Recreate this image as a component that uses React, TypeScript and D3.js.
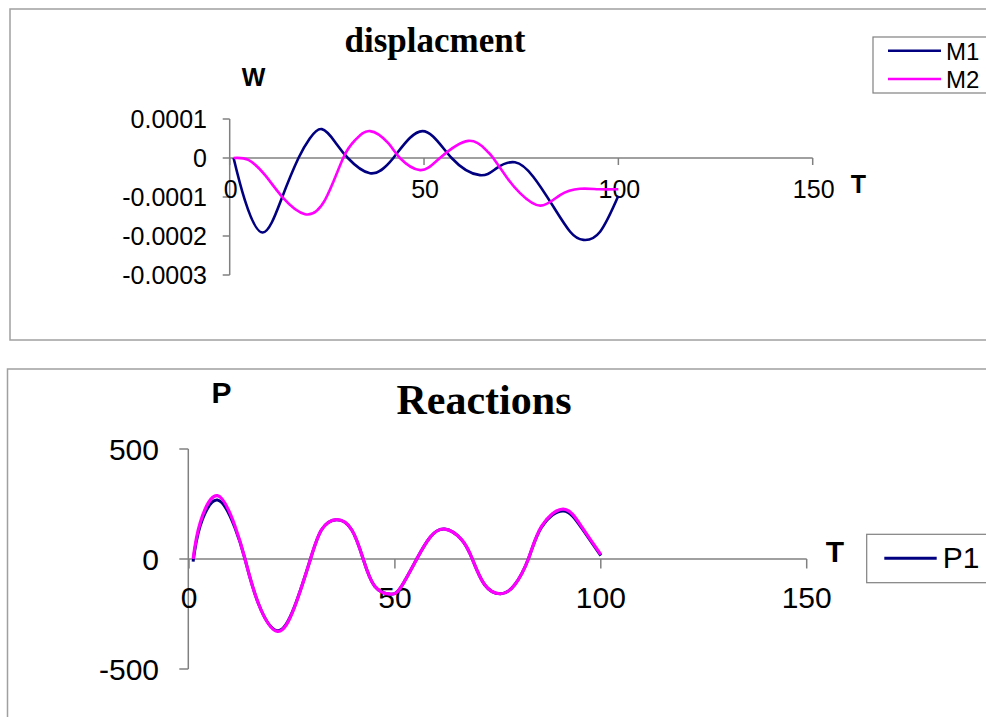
import React, { useRef, useEffect } from 'react';
import * as d3 from 'd3';

// displacement chart (values in units of 1e-4)
const m1T = [1, 3.9, 8.5, 13.4, 17.7, 20.6, 23.7, 27.2, 30.4, 36.1, 42.1, 49.6, 57.1, 64.4, 68.7, 73.4, 78.1, 83.3, 87.6, 91, 95.3, 100];
const m1W = [0, -1.08, -1.91, -1.03, 0, 0.5, 0.74, 0.4, 0, -0.39, 0, 0.69, 0, -0.44, -0.26, -0.11, -0.48, -1.25, -1.89, -2.1, -1.89, -0.97];
const m2T = [1, 4.8, 9.1, 13.8, 19.4, 24.5, 29.2, 32.4, 36.1, 40.8, 43.8, 49, 54.1, 61.4, 66.1, 67.8, 71.3, 74.7, 79.9, 85, 90.1, 95, 100];
const m2W = [0, -0.05, -0.44, -1.03, -1.44, -1.08, 0, 0.47, 0.69, 0.38, 0, -0.31, 0, 0.44, 0.19, 0, -0.5, -0.9, -1.22, -0.95, -0.79, -0.8, -0.8];

// reactions chart
const pT = [1, 2.7, 6.9, 11.2, 13.6, 16.8, 21.5, 25.7, 29.5, 32.2, 35.8, 39.5, 42.3, 45.1, 49, 51.6, 55.3, 58.6, 62.1, 66.2, 68.8, 71.8, 75.7, 79.1, 82.4, 85.6, 90.9, 95.3, 100];
const p1 = [-12, 150, 268, 140, 0, -200, -326, -213, 0, 133, 178, 133, 0, -124, -160, -124, 0, 100, 136, 88, 0, -117, -158, -117, 0, 145, 218, 142, 15];
const p2 = [0, 164, 288, 148, 0, -200, -329, -215, 0, 133, 179, 133, 0, -124, -160, -124, 0, 100, 136, 88, 0, -117, -158, -117, 0, 148, 227, 148, 20];

const xTicks = [0, 50, 100, 150];
const wTicks = [0.0001, 0, -0.0001, -0.0002, -0.0003];
const wTickLabels = ['0.0001', '0', '-0.0001', '-0.0002', '-0.0003'];
const pTicks = [500, 0, -500];

const NAVY = '#000080';
const MAGENTA = '#ff00ff';
const SANS = '"Liberation Sans", Arial, sans-serif';
const SERIF = '"Liberation Serif", "Times New Roman", serif';

const App = () => {
  const ref = useRef<SVGSVGElement>(null);

  useEffect(() => {
    const svg = d3.select(ref.current);
    svg.selectAll('*').remove();

    svg.append('rect').attr('width', 986).attr('height', 717).attr('fill', '#fff');

    // ---------- top panel ----------
    svg.append('rect')
      .attr('x', 10).attr('y', 9).attr('width', 990).attr('height', 331)
      .attr('fill', 'none').attr('stroke', '#a0a0a0').attr('stroke-width', 1.5);

    const x1 = d3.scaleLinear().domain([0, 150]).range([229.7, 812.7]);
    const y1 = d3.scaleLinear().domain([-0.0003, 0.0001]).range([275, 119]);

    const g1 = svg.append('g');
    // y axis
    g1.append('line')
      .attr('x1', x1(0)).attr('x2', x1(0)).attr('y1', y1(0.0001)).attr('y2', y1(-0.0003))
      .attr('stroke', '#808080').attr('stroke-width', 1.5);
    wTicks.forEach((v, i) => {
      g1.append('line')
        .attr('x1', x1(0) - 7).attr('x2', x1(0)).attr('y1', y1(v)).attr('y2', y1(v))
        .attr('stroke', '#808080').attr('stroke-width', 1.5);
      g1.append('text')
        .attr('x', 207).attr('y', y1(v)).attr('dy', '0.35em')
        .attr('text-anchor', 'end').attr('font-family', SANS).attr('font-size', 25)
        .text(wTickLabels[i]);
    });
    // x axis
    g1.append('line')
      .attr('x1', x1(0)).attr('x2', x1(150)).attr('y1', y1(0)).attr('y2', y1(0))
      .attr('stroke', '#808080').attr('stroke-width', 1.5);
    xTicks.forEach(v => {
      g1.append('line')
        .attr('x1', x1(v)).attr('x2', x1(v)).attr('y1', y1(0)).attr('y2', y1(0) + 7)
        .attr('stroke', '#808080').attr('stroke-width', 1.5);
      g1.append('text')
        .attr('x', x1(v) + 1).attr('y', 198)
        .attr('text-anchor', 'middle').attr('font-family', SANS).attr('font-size', 25)
        .text(v);
    });

    const line1 = d3.line<[number, number]>()
      .x(d => x1(d[0])).y(d => y1(d[1] * 1e-4))
      .curve(d3.curveNatural);
    g1.append('path')
      .attr('d', line1(m1T.map((t, i) => [t, m1W[i]])))
      .attr('fill', 'none').attr('stroke', NAVY).attr('stroke-width', 2.6);
    g1.append('path')
      .attr('d', line1(m2T.map((t, i) => [t, m2W[i]])))
      .attr('fill', 'none').attr('stroke', MAGENTA).attr('stroke-width', 2.6);

    g1.append('text')
      .attr('x', 435).attr('y', 52).attr('text-anchor', 'middle')
      .attr('font-family', SERIF).attr('font-weight', 'bold').attr('font-size', 35)
      .text('displacment');
    g1.append('text')
      .attr('x', 253.5).attr('y', 86).attr('text-anchor', 'middle')
      .attr('font-family', SANS).attr('font-weight', 'bold').attr('font-size', 25)
      .text('W');
    g1.append('text')
      .attr('x', 858.5).attr('y', 193).attr('text-anchor', 'middle')
      .attr('font-family', SANS).attr('font-weight', 'bold').attr('font-size', 25)
      .text('T');

    // legend
    g1.append('rect')
      .attr('x', 873).attr('y', 37).attr('width', 200).attr('height', 56)
      .attr('fill', '#fff').attr('stroke', '#808080').attr('stroke-width', 1.2);
    [['M1', NAVY, 50.7, 59.5], ['M2', MAGENTA, 79, 87.5]].forEach(([name, color, ly, ty]) => {
      g1.append('line')
        .attr('x1', 888).attr('x2', 941).attr('y1', ly as number).attr('y2', ly as number)
        .attr('stroke', color as string).attr('stroke-width', 2.6);
      g1.append('text')
        .attr('x', 946).attr('y', ty as number)
        .attr('font-family', SANS).attr('font-size', 24)
        .text(name as string);
    });

    // ---------- bottom panel ----------
    svg.append('rect')
      .attr('x', 7.5).attr('y', 369).attr('width', 990).attr('height', 400)
      .attr('fill', 'none').attr('stroke', '#a0a0a0').attr('stroke-width', 1.5);

    const x2 = d3.scaleLinear().domain([0, 150]).range([189, 806.7]);
    const y2 = d3.scaleLinear().domain([-500, 500]).range([669, 449]);

    const g2 = svg.append('g');
    g2.append('line')
      .attr('x1', 188.3).attr('x2', 188.3).attr('y1', y2(500)).attr('y2', y2(-500))
      .attr('stroke', '#808080').attr('stroke-width', 1.5);
    pTicks.forEach(v => {
      g2.append('line')
        .attr('x1', 179.3).attr('x2', 188.3).attr('y1', y2(v)).attr('y2', y2(v))
        .attr('stroke', '#808080').attr('stroke-width', 1.5);
      g2.append('text')
        .attr('x', 159).attr('y', y2(v)).attr('dy', '0.35em')
        .attr('text-anchor', 'end').attr('font-family', SANS).attr('font-size', 30)
        .text(v);
    });
    g2.append('line')
      .attr('x1', 188.3).attr('x2', x2(150)).attr('y1', y2(0)).attr('y2', y2(0))
      .attr('stroke', '#808080').attr('stroke-width', 1.5);
    xTicks.forEach(v => {
      g2.append('line')
        .attr('x1', x2(v)).attr('x2', x2(v)).attr('y1', y2(0)).attr('y2', y2(0) + 9.5)
        .attr('stroke', '#808080').attr('stroke-width', 1.5);
      g2.append('text')
        .attr('x', x2(v)).attr('y', 608)
        .attr('text-anchor', 'middle').attr('font-family', SANS).attr('font-size', 30)
        .text(v);
    });

    const line2 = d3.line<[number, number]>()
      .x(d => x2(d[0])).y(d => y2(d[1]))
      .curve(d3.curveNatural);
    g2.append('path')
      .attr('d', line2(pT.map((t, i) => [t, p1[i]])))
      .attr('fill', 'none').attr('stroke', NAVY).attr('stroke-width', 3);
    g2.append('path')
      .attr('d', line2(pT.map((t, i) => [t, p2[i]])))
      .attr('fill', 'none').attr('stroke', MAGENTA).attr('stroke-width', 3.2);

    g2.append('text')
      .attr('x', 484).attr('y', 414).attr('text-anchor', 'middle')
      .attr('font-family', SERIF).attr('font-weight', 'bold').attr('font-size', 42)
      .text('Reactions');
    g2.append('text')
      .attr('x', 221.5).attr('y', 402.7).attr('text-anchor', 'middle')
      .attr('font-family', SANS).attr('font-weight', 'bold').attr('font-size', 30)
      .text('P');
    g2.append('text')
      .attr('x', 835).attr('y', 561.7).attr('text-anchor', 'middle')
      .attr('font-family', SANS).attr('font-weight', 'bold').attr('font-size', 30)
      .text('T');

    g2.append('rect')
      .attr('x', 866.7).attr('y', 534.3).attr('width', 200).attr('height', 48.4)
      .attr('fill', '#fff').attr('stroke', '#808080').attr('stroke-width', 1.2);
    g2.append('line')
      .attr('x1', 884.3).attr('x2', 936.7).attr('y1', 558.3).attr('y2', 558.3)
      .attr('stroke', NAVY).attr('stroke-width', 3);
    g2.append('text')
      .attr('x', 942.7).attr('y', 568)
      .attr('font-family', SANS).attr('font-size', 30)
      .text('P1');

    return () => {
      d3.select(ref.current).selectAll('*').remove();
    };
  }, []);

  return (
    <svg
      ref={ref}
      width={986}
      height={717}
      style={{ position: 'absolute', left: 0, top: 0, display: 'block' }}
    ></svg>
  );
};

export default App;
